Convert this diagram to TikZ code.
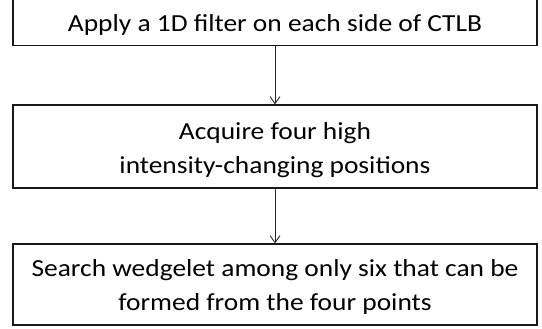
\documentclass[tikz,border=0pt]{standalone}
\usepackage{fontspec}
\setmainfont{Carlito}[FakeStretch=1.12]
\usetikzlibrary{arrows.meta}
\begin{document}
\begin{tikzpicture}[x=1pt,y=-1pt,
  stepbox/.style={draw=black!90,line width=1.3pt,minimum width=524pt,inner sep=0pt,fill=white},
  steptext/.style={inner sep=0pt,align=center,font=\fontsize{24.5}{34}\selectfont},
  link/.style={draw=black!85,line width=0.9pt,-{Straight Barb[length=7pt,width=10pt,line width=0.9pt]}}]
\useasboundingbox (0,0) rectangle (542,329);
\node[stepbox,minimum height=48pt] (a) at (275,21.5) {};
\node[stepbox,minimum height=83pt] (b) at (275,146.5) {};
\node[stepbox,minimum height=81pt] (c) at (275,284.5) {};
\node[steptext] (ta) at (275,25) {Apply a 1D filter on each side of CTLB};
\node[steptext] (tb) at (275,150) {Acquire four high\\intensity-changing positions};
\node[steptext] (tc) at (275,286.5) {Search wedgelet among only six that can be\\formed from the four points};
\draw[link] (a) -- (b);
\draw[link] (b) -- (c);
\end{tikzpicture}
\end{document}
